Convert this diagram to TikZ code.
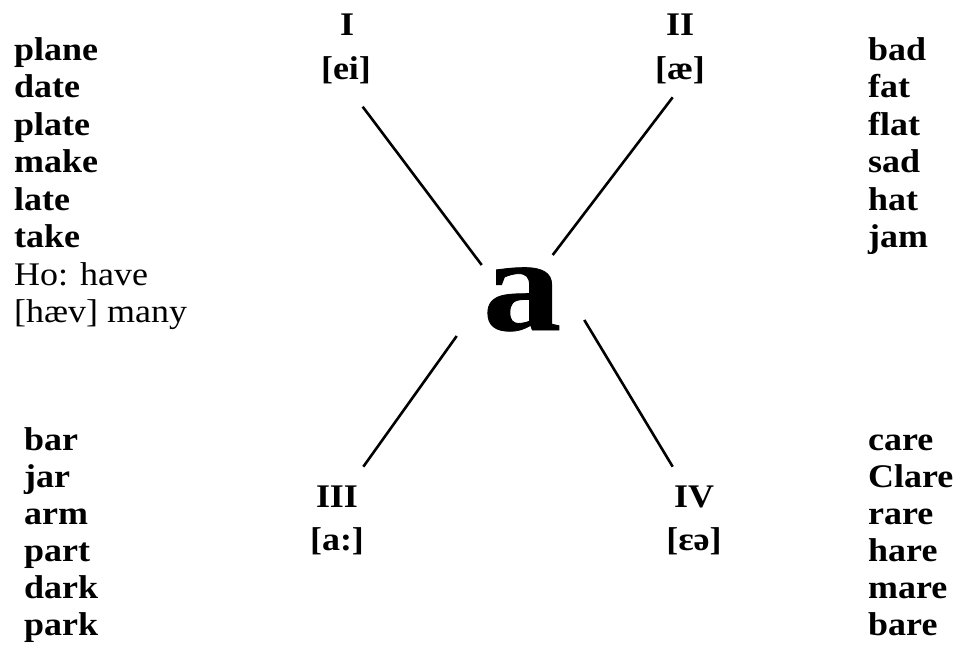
\documentclass[tikz,border=0pt]{standalone}
\usepackage{fontspec}
\setmainfont[FakeStretch=1.09]{Liberation Serif}
\newfontfamily\bigafont[FakeStretch=1.18,FakeBold=0.6]{Liberation Serif}
\begin{document}
\begin{tikzpicture}[x=1pt,y=-1pt,
  word/.style={anchor=base west,inner sep=0pt,font=\fontsize{33}{37.5}\selectfont\bfseries},
  note/.style={anchor=base west,inner sep=0pt,font=\fontsize{33}{37.5}\selectfont},
  roman/.style={anchor=base,inner sep=0pt,font=\fontsize{33}{37.5}\selectfont\bfseries},
  stroke/.style={line width=2.6pt}]
\useasboundingbox[fill=white] (0,0) rectangle (958,649);
% left top
\node[word] (w1) at (14,60) {plane};
\node[word] (w2) at (14,97.5) {date};
\node[word] (w3) at (14,135) {plate};
\node[word] (w4) at (14,172.5) {make};
\node[word] (w5) at (14,210) {late};
\node[word] (w6) at (14,247.5) {take};
\node[note] (n1) at (14,285) {Ho: have};
\node[note] (n2) at (14,322.5) {[hæv] many};
% right top
\node[word] (r1) at (868,60) {bad};
\node[word] (r2) at (868,97.5) {fat};
\node[word] (r3) at (868,135) {flat};
\node[word] (r4) at (868,172.5) {sad};
\node[word] (r5) at (868,210) {hat};
\node[word] (r6) at (868,247.5) {jam};
% left bottom
\node[word] (b1) at (24,450) {bar};
\node[word] (b2) at (24,487) {jar};
\node[word] (b3) at (24,524) {arm};
\node[word] (b4) at (24,561) {part};
\node[word] (b5) at (24,598) {dark};
\node[word] (b6) at (24,635) {park};
% right bottom
\node[word] (c1) at (868,450) {care};
\node[word] (c2) at (868,487) {Clare};
\node[word] (c3) at (868,524) {rare};
\node[word] (c4) at (868,561) {hare};
\node[word] (c5) at (868,598) {mare};
\node[word] (c6) at (868,635) {bare};
% labels
\node[roman] (L1) at (347,35) {I};
\node[roman] (P1) at (346,79) {[ei]};
\node[roman] (L2) at (680,35) {II};
\node[roman] (P2) at (680,79) {[æ]};
\node[roman] (L3) at (337,507) {III};
\node[roman] (P3) at (337,550) {[a:]};
\node[roman] (L4) at (694,507) {IV};
\node[roman] (P4) at (694,550) {[ɛə]};
% centre letter
\node[anchor=base,inner sep=0pt,font=\bigafont\fontsize{133}{140}\selectfont\bfseries] (A) at (522,330) {a};
% connectors
\coordinate (s1) at (362.7,106.7); \coordinate (e1) at (481.7,265);
\coordinate (s2) at (672.7,97.3);  \coordinate (e2) at (552.7,255);
\coordinate (s3) at (456.7,336);   \coordinate (e3) at (363.3,466.7);
\coordinate (s4) at (584.3,320);   \coordinate (e4) at (672.7,466.7);
\draw[stroke] (s1) -- (e1);
\draw[stroke] (s2) -- (e2);
\draw[stroke] (s3) -- (e3);
\draw[stroke] (s4) -- (e4);
\end{tikzpicture}
\end{document}
